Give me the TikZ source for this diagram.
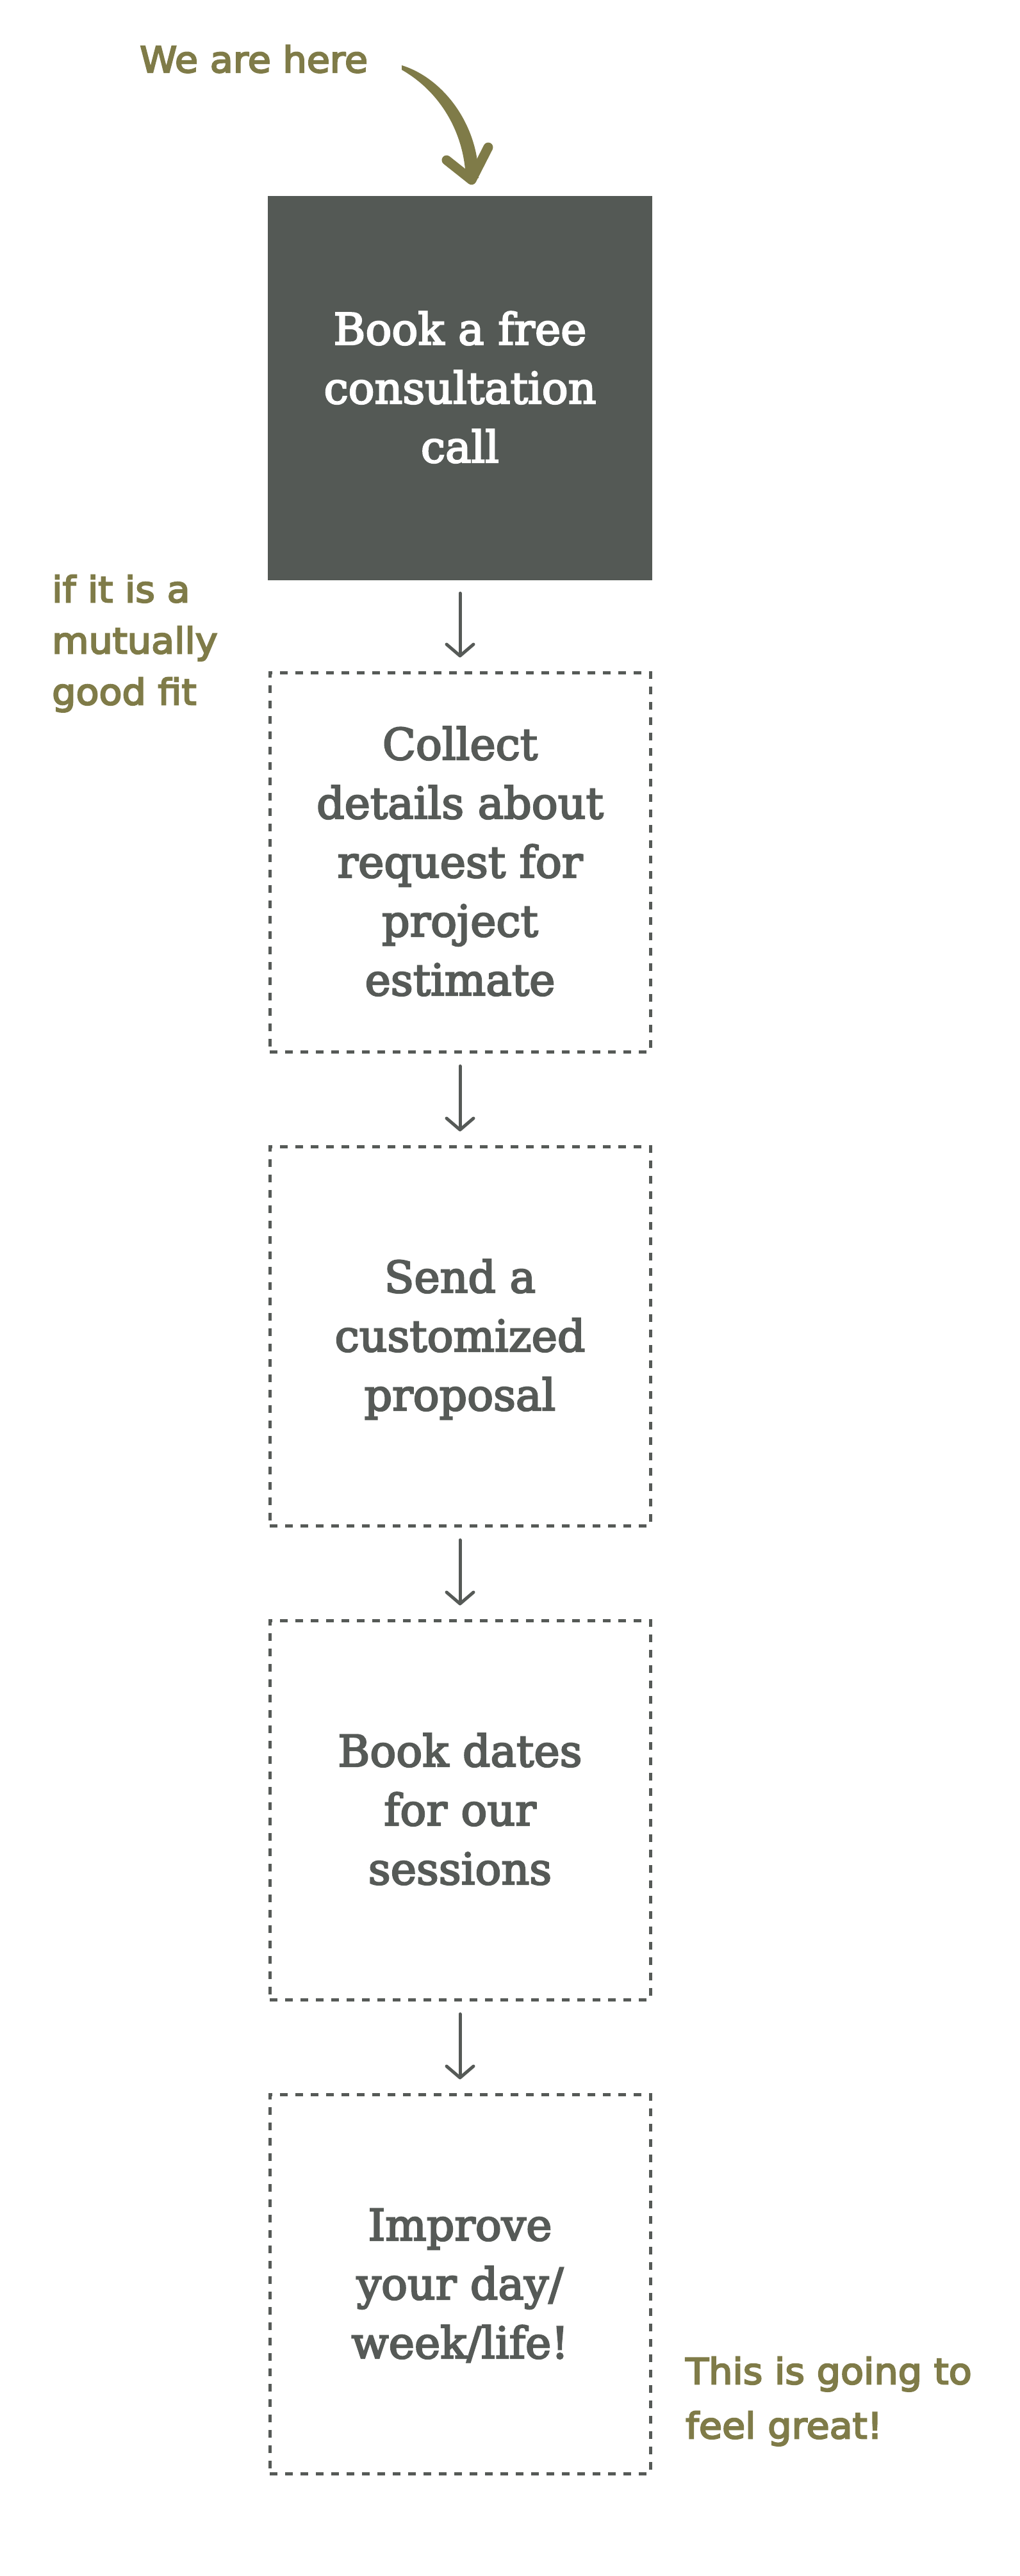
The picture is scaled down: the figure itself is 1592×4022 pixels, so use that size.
\documentclass[tikz,border=0pt]{standalone}
\usepackage{fontspec}
\usetikzlibrary{arrows.meta}
\newfontfamily\boxfont{DejaVu Serif}[FakeBold=3.5]
\newfontfamily\handfont{DejaVu Sans}[FakeStretch=1.05,FakeBold=4]
\definecolor{boxdark}{RGB}{84,89,85}
\definecolor{txtgray}{RGB}{86,90,87}
\definecolor{olive}{RGB}{127,123,72}
\begin{document}
\begin{tikzpicture}[x=1pt,y=-1pt,
  stepbase/.style={minimum width=594pt, minimum height=592pt, inner sep=0pt, align=center,
    font=\boxfont\fontsize{68pt}{92pt}\selectfont},
  darkbox/.style={stepbase, fill=boxdark, text=white, minimum width=600pt, minimum height=600pt},
  dashbox/.style={stepbase, draw=txtgray, line width=5pt, dash pattern=on 12pt off 12pt, text=txtgray},
  conn/.style={draw=txtgray, line width=5pt, line cap=round, shorten <=20pt, shorten >=21pt,
    -{Straight Barb[length=18pt, width=42pt, line width=5pt, round]}},
  hand/.style={text=olive, font=\handfont\fontsize{56pt}{80pt}\selectfont, inner sep=0pt, align=left}]
\path[use as bounding box, fill=white] (0,0) rectangle (1592,4022);

\node[darkbox] (b1) at (718,606) {\rule{0pt}{66pt}Book a free\\consultation\\call\rule[-18pt]{0pt}{18pt}};
\node[dashbox] (b2) at (718,1346) {\rule{0pt}{66pt}Collect\\details about\\request for\\project\\estimate\rule[-18pt]{0pt}{18pt}};
\node[dashbox] (b3) at (718,2086) {\rule{0pt}{66pt}Send a\\customized\\proposal\rule[-18pt]{0pt}{18pt}};
\node[dashbox] (b4) at (718,2826) {\rule{0pt}{66pt}Book dates\\for our\\sessions\rule[-18pt]{0pt}{18pt}};
\node[dashbox] (b5) at (718,3566) {\rule{0pt}{66pt}Improve\\your day/\\week/life!\rule[-18pt]{0pt}{18pt}};

\draw[conn] (b1) -- (b2);
\draw[conn] (b2) -- (b3);
\draw[conn] (b3) -- (b4);
\draw[conn] (b4) -- (b5);

\node[hand, anchor=base west] (here) at (218,113) {We are here};
\node[hand, anchor=north west] (fit) at (81,890) {\rule{0pt}{50pt}if it is a\\mutually\\good fit};
\node[hand, anchor=north west, font=\handfont\fontsize{56pt}{85pt}\selectfont] (great) at (1070,3672) {\rule{0pt}{50pt}This is going to\\feel great!};

\fill[olive] (627,102) .. controls (692,122) and (747,195) .. (747,278) -- (727,280) .. controls (725,205) and (685,142) .. (627,109) -- cycle;
\draw[olive, line width=15pt, line cap=round, line join=round] (697,250) -- (736,281) -- (762,230);
\end{tikzpicture}
\end{document}
